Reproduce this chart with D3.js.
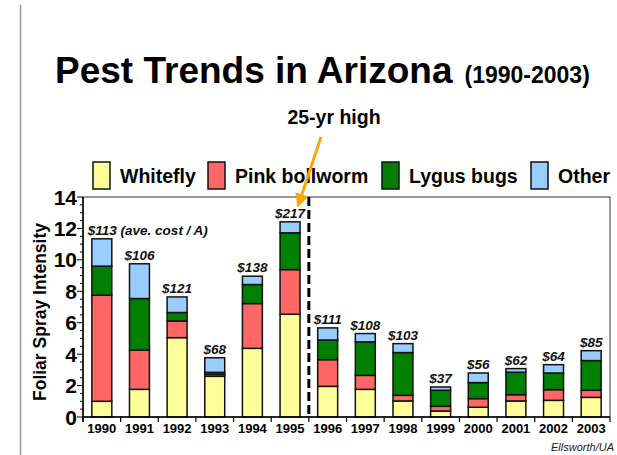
<!DOCTYPE html>
<html><head><meta charset="utf-8">
<script src="https://cdn.jsdelivr.net/npm/d3@7"></script>
<style>body{margin:0;background:#fff}svg{display:block}text{font-family:"Liberation Sans",Arial,sans-serif}</style>
</head><body>
<svg id="c" width="617" height="455"></svg>
<script>
const years = ["1990","1991","1992","1993","1994","1995","1996","1997","1998","1999","2000","2001","2002","2003"];
const whitefly    = [1.00,1.76,5.05,2.59,4.37,6.54,1.95,1.76,1.02,0.38,0.62,1.02,1.06,1.25];
const pinkBollworm= [6.75,2.49,1.06,0.12,2.85,2.84,1.70,0.89,0.36,0.30,0.55,0.40,0.68,0.45];
const lygusBugs   = [1.85,3.29,0.54,0.13,1.21,2.34,1.25,2.13,2.72,1.02,1.02,1.43,1.06,1.89];
const other       = [1.74,2.21,0.99,0.93,0.53,0.70,0.77,0.53,0.57,0.21,0.61,0.23,0.53,0.63];
const costs = ["$113","$106","$121","$68","$138","$217","$111","$108","$103","$37","$56","$62","$64","$85"];
const seriesNames = ["Whitefly","Pink bollworm","Lygus bugs","Other"];
const seriesColors = ["#FFFF99","#FF6666","#008000","#99CCFF"];
const yTicks = [0,2,4,6,8,10,12,14];

const svg = d3.select("#c");
const L = 83, R = 610, T = 197, B = 417;

const x = d3.scaleBand().domain(years).range([L, R]).paddingInner(0.47).paddingOuter(0.235);
const y = d3.scaleLinear().domain([0, 14]).range([B, T]);

// left gray rule
svg.append("line").attr("x1",20.5).attr("x2",20.5).attr("y1",5).attr("y2",455)
  .attr("stroke","#999").attr("stroke-width",1.5);

// title
const title = svg.append("text").attr("x",55).attr("y",83).attr("font-weight","bold").attr("fill","#000");
title.append("tspan").attr("font-size",37).text("Pest Trends in Arizona");
title.append("tspan").attr("font-size",23).attr("dx",12).text("(1990-2003)");

svg.append("text").attr("x",334).attr("y",124).attr("text-anchor","middle")
  .attr("font-size",19.5).attr("font-weight","bold").text("25-yr high");

// plot frame
svg.append("rect").attr("x",L).attr("y",T).attr("width",R-L).attr("height",B-T)
  .attr("fill","none").attr("stroke","#333").attr("stroke-width",1);

// stacked data
const table = years.map((yr,i)=>({year:yr, s0:whitefly[i], s1:pinkBollworm[i], s2:lygusBugs[i], s3:other[i]}));
const stack = d3.stack().keys(["s0","s1","s2","s3"])(table);

svg.append("g").selectAll("g").data(stack).join("g")
  .attr("fill",(d,i)=>seriesColors[i])
  .selectAll("rect").data(d=>d).join("rect")
  .attr("x",d=>x(d.data.year)).attr("width",x.bandwidth())
  .attr("y",d=>y(d[1])).attr("height",d=>y(d[0])-y(d[1]))
  .attr("stroke","#111").attr("stroke-width",1.5);

// cost labels
const totals = table.map(d=>d.s0+d.s1+d.s2+d.s3);
svg.append("g").selectAll("text").data(years).join("text")
  .attr("x",(d,i)=> i===0 ? x(d)+x.bandwidth()/2-14 : x(d)+x.bandwidth()/2)
  .attr("y",(d,i)=>y(totals[i])-4)
  .attr("text-anchor",(d,i)=> i===0 ? "start" : "middle")
  .attr("font-size",13.5).attr("font-weight","bold").attr("font-style","italic").attr("fill","#111")
  .text((d,i)=> i===0 ? costs[i]+" (ave. cost / A)" : costs[i]);

// y axis
const yAxis = svg.append("g");
yAxis.append("line").attr("x1",L).attr("x2",L).attr("y1",T).attr("y2",B+5).attr("stroke","#000").attr("stroke-width",1.5);
const minor = d3.range(0, 14.01, 0.5);
yAxis.selectAll("line.t").data(minor).join("line").attr("class","t")
  .attr("x1",d=> d%2===0 ? L-6 : L-3).attr("x2",L).attr("y1",d=>y(d)).attr("y2",d=>y(d))
  .attr("stroke","#000").attr("stroke-width",1);
yAxis.selectAll("text").data(yTicks).join("text")
  .attr("x",77).attr("y",d=>y(d)).attr("dy","0.36em").attr("text-anchor","end")
  .attr("font-size",21).attr("font-weight","bold").text(d=>d);

svg.append("text").attr("transform","translate(46,312) rotate(-90)").attr("text-anchor","middle")
  .attr("font-size",17.5).attr("font-weight","bold").text("Foliar Spray Intensity");

// x axis
const xAxis = svg.append("g");
xAxis.append("line").attr("x1",L).attr("x2",R).attr("y1",B).attr("y2",B).attr("stroke","#000").attr("stroke-width",1.5);
const bounds = years.map(d=>x(d)-x.step()*x.paddingInner()/2).concat([R]);
xAxis.selectAll("line.t").data(bounds).join("line").attr("class","t")
  .attr("x1",d=>d).attr("x2",d=>d).attr("y1",B).attr("y2",B+5).attr("stroke","#000").attr("stroke-width",1.2);
xAxis.selectAll("text").data(years).join("text")
  .attr("x",d=>x(d)+x.bandwidth()/2).attr("y",433).attr("text-anchor","middle")
  .attr("font-size",13).attr("font-weight","bold").text(d=>d);

// dashed divider between 1995 and 1996
const divX = (x("1995")+x.bandwidth()+x("1996"))/2;
svg.append("line").attr("x1",divX).attr("x2",divX).attr("y1",T).attr("y2",B)
  .attr("stroke","#000").attr("stroke-width",3).attr("stroke-dasharray","9,4");

// legend
const legX = [93,208,382,531];
const lg = svg.append("g").selectAll("g").data(seriesNames).join("g")
  .attr("transform",(d,i)=>`translate(${legX[i]},162)`);
lg.append("rect").attr("width",17).attr("height",27).attr("fill",(d,i)=>seriesColors[i])
  .attr("stroke","#111").attr("stroke-width",1.5);
lg.append("text").attr("x",27).attr("y",21).attr("font-size",19.5).attr("font-weight","bold").text(d=>d);

// arrow
const defs = svg.append("defs");
defs.append("marker").attr("id","ah").attr("viewBox","0 0 10 10").attr("refX",9).attr("refY",5)
  .attr("markerWidth",4.5).attr("markerHeight",4.5).attr("orient","auto")
  .append("path").attr("d","M0,0 L10,5 L0,10 z").attr("fill","#FFA500");
svg.append("line").attr("x1",321).attr("y1",137).attr("x2",298).attr("y2",206)
  .attr("stroke","#FFA500").attr("stroke-width",3).attr("marker-end","url(#ah)");

svg.append("text").attr("x",614).attr("y",451).attr("text-anchor","end")
  .attr("font-family","'Liberation Serif','Times New Roman',serif").attr("font-style","italic")
  .attr("font-size",11).attr("fill","#222").text("Ellsworth/UA");
</script>
</body></html>
